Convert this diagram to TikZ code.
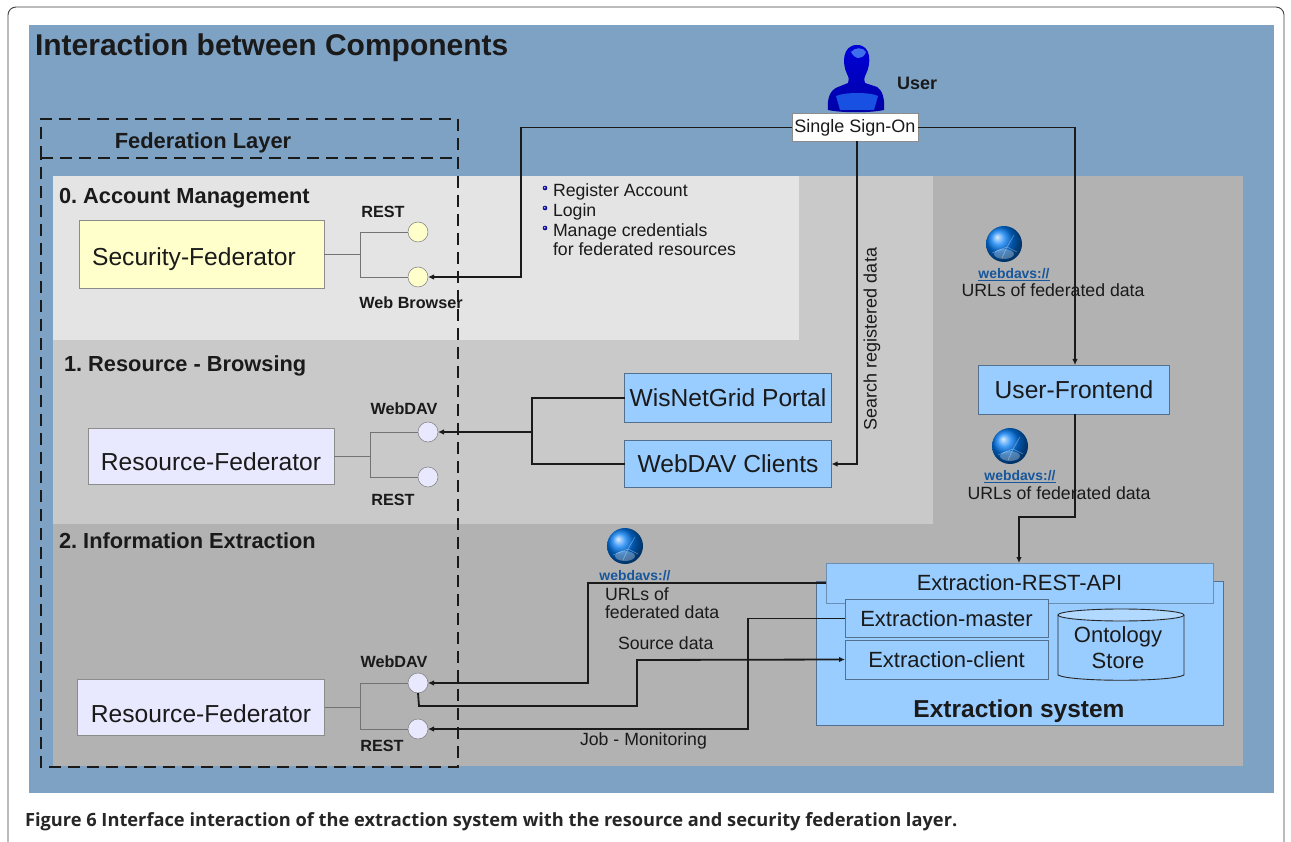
\documentclass[tikz,border=0pt]{standalone}
\usepackage{fontspec}
\setmainfont{Liberation Sans}
\newfontfamily\capfont{Open Sans}
\usetikzlibrary{arrows.meta,shapes.geometric}
\frenchspacing
\newcommand{\fz}[1]{\fontsize{#1}{#1}\selectfont}
\newcommand{\lowr}[2]{\raisebox{-#1pt}[0pt][0pt]{#2}}
\definecolor{bgblue}{HTML}{7EA2C4}
\definecolor{sysblue}{HTML}{99CCFF}
\definecolor{lav}{HTML}{E8E8FF}
\definecolor{pale}{HTML}{FFFFCC}
\definecolor{linkblue}{HTML}{17569B}
\definecolor{ink}{HTML}{1A1A1A}
\tikzset{
 x=1pt,y=-1pt,
 every node/.style={inner sep=0pt,outer sep=0pt,text=ink},
 conn/.style={draw=ink,line width=1.8pt},
 arr/.style={conn,-{Latex[length=6pt,width=5.5pt]}},
 lolli/.style={draw=black!55,line width=0.9pt},
 dashbox/.style={draw=ink,line width=1.1pt,dash pattern=on 12pt off 7pt},
 feder/.style={draw=black!45,line width=0.5pt,fill=#1,align=center},
 sock/.style={circle,draw=black!50,line width=0.5pt,fill=#1,minimum size=20pt},
 sysbox/.style={draw=black!45!sysblue,line width=0.8pt,fill=sysblue,align=center},
 head/.style={font=\bfseries\fz{21.8}},
 ifl/.style={font=\bfseries\fz{16.2}},
 lab/.style={font=\fz{17.7}},
 boxt/.style={font=\fz{24.6}},
 subt/.style={font=\fz{22}},
 web/.style={font=\bfseries\fz{13.9},text=linkblue,inner sep=0pt},
}
\newcommand{\globe}[3]{%
 \shade[ball color=blue!50!cyan!95!black] (#1,#2) circle[radius=18pt];
 \draw[white,opacity=.4,line width=.5pt] (#1-12,#2+9) -- (#1+3,#2+3) -- (#1+13,#2+8) (#1+3,#2+3) -- (#1-2,#2+14) (#1+3,#2+3) -- (#1+10,#2-9);
 \fill[white,opacity=.3] (#1,#2+10) ellipse[x radius=10pt,y radius=5pt];
 \node[web] (#3) at (#1+10,#2+31) {\underline{webdavs://}};}
\newcommand{\bul}[1]{\shade[ball color=blue!80!black] (545,#1) circle[radius=2.3pt];}
\begin{document}
\begin{tikzpicture}
\useasboundingbox (0,0) rectangle (1291,842);
\fill[white] (0,0) rectangle (1291,842);
\draw[black!75,line width=0.9pt,rounded corners=8pt] (8,7) rectangle (1284,860);
\fill[bgblue] (29,25) rectangle (1274,793);
\fill[black!30] (53,176) rectangle (1243,766);
\fill[black!21] (53,340) rectangle (933,524);
\fill[black!21] (799,176) rectangle (933,340);
\fill[black!10.5] (53,176) rectangle (799,340);
\node[anchor=base west,font=\bfseries\fz{30}] (title) at (35,56) {Interaction between Components};
\draw[dashbox] (41,158) -- (41,119) -- (458,119) -- (458,767) -- (41,767) -- cycle;
\draw[dashbox] (41,158) -- (458,158);
\node[anchor=base,font=\bfseries\fz{21.9}] (fedlayer) at (203,149) {Federation Layer};
\node[anchor=base west,head] (t0) at (59,204) {0. Account Management};
\node[anchor=base west,head] (t1) at (64,372) {1. Resource - Browsing};
\node[anchor=base west,head] (t2) at (59,548) {2. Information Extraction};
% user
\shade[top color=blue!85!black,bottom color=blue!65!black]
 (828,110) .. controls (827,98) and (830,90) .. (838,87) -- (848,83) .. controls (849,79) and (849,78) .. (847,74)
 .. controls (842,64) and (842,45) .. (857,45) .. controls (872,45) and (871,64) .. (866,74)
 .. controls (864,78) and (864,79) .. (865,83) -- (877,87) .. controls (882,90) and (885,98) .. (884,110)
 .. controls (870,113) and (842,113) .. (828,110) -- cycle;
\fill[blue!60!cyan!85!white,opacity=.65] (836,96) .. controls (845,92) and (870,92) .. (878,96) -- (874,110) -- (840,110) -- cycle;
\fill[blue!45!cyan!60!white,opacity=.6] (851,52) .. controls (855,47) and (863,47) .. (866,52) .. controls (863,60) and (855,60) .. (851,52) -- cycle;
\node[anchor=base west,font=\bfseries\fz{18}] (usr) at (897,90) {User};
\node[draw=black!45,line width=0.6pt,fill=white,minimum width=126pt,minimum height=28pt,font=\fz{18}] (sso) at (855,127.5) {Single Sign-On};
% bullets
\bul{188}\bul{208}\bul{228}
\node[anchor=base west,lab] (b1) at (553,197) {Register Account};
\node[anchor=base west,lab] (b2) at (553,217) {Login};
\node[anchor=base west,lab] (b3) at (553,237) {Manage credentials};
\node[anchor=base west,lab] (b4) at (553,256) {for federated resources};
\node[rotate=90,font=\fz{18}] (srch) at (872,339) {Search registered data};
% globes
\globe{1004}{244}{w1}
\node[anchor=base,lab] (u1) at (1053,297) {URLs of federated data};
\globe{1010}{446}{w2}
\node[anchor=base,lab] (u2) at (1059,499) {URLs of federated data};
\globe{625}{546}{w3}
\node[anchor=base west,lab] (u3a) at (605,600) {URLs of};
\node[anchor=base west,lab] (u3b) at (605,618) {federated data};
\node[anchor=base west,lab] (srcd) at (618,649) {Source data};
\node[anchor=base west,lab] (jobm) at (580,745) {Job - Monitoring};
% federators
\node[feder=pale,minimum width=245pt,minimum height=68pt,boxt] (sec) at (201.5,254) {\hspace*{-15pt}\lowr{12}{Security-Federator}};
\node[feder=lav,minimum width=246pt,minimum height=56pt,boxt] (res1) at (211,456) {\lowr{14.5}{Resource-Federator}};
\node[feder=lav,minimum width=247pt,minimum height=56pt,boxt] (res2) at (201,707) {\lowr{15}{Resource-Federator}};
% sockets
\node[sock=pale] (s1) at (418,232) {};
\node[sock=pale] (s2) at (418,277) {};
\node[sock=lav] (s3) at (428,432) {};
\node[sock=lav] (s4) at (428,477) {};
\node[sock=lav] (s5) at (418,683) {};
\node[sock=lav] (s6) at (418,729) {};
\node[ifl] (l1) at (383,212) {REST};
\node[ifl] (l2) at (411,303) {Web Browser};
\node[ifl] (l3) at (404,409) {WebDAV};
\node[ifl] (l4) at (393,500) {REST};
\node[ifl] (l5) at (394,662) {WebDAV};
\node[ifl] (l6) at (382,746) {REST};
\draw[lolli] (sec.east) -- (360,254) (360,232) -- (s1.west) (360,277) -- (s2.west) (360,232) -- (360,277);
\draw[lolli] (res1.east) -- (370,456) (370,432) -- (s3.west) (370,477) -- (s4.west) (370,432) -- (370,477);
\draw[lolli] (res2.east) -- (360,707) (360,683) -- (s5.west) (360,729) -- (s6.west) (360,683) -- (360,729);
% boxes
\node[sysbox,minimum width=191pt,minimum height=49pt,boxt] (uf) at (1074,389.5) {User-Frontend};
\node[sysbox,minimum width=207pt,minimum height=49pt,boxt] (portal) at (728,398) {WisNetGrid Portal};
\node[sysbox,minimum width=207pt,minimum height=47pt,boxt] (clients) at (728,464) {WebDAV Clients};
\node[sysbox,minimum width=407pt,minimum height=144pt] (sys) at (1019.5,653) {};
\node[anchor=base,font=\bfseries\fz{24.5}] (syst) at (1019,717) {Extraction system};
\node[draw=black!30!sysblue,line width=0.5pt,fill=sysblue,minimum width=387pt,minimum height=40pt,subt] (api) at (1019.5,583) {Extraction-REST-API};
\node[sysbox,minimum width=203pt,minimum height=38pt,subt] (master) at (946.5,618.5) {Extraction-master};
\node[sysbox,minimum width=203pt,minimum height=39pt,subt] (client) at (946.5,659.5) {Extraction-client};
\draw[black!85,line width=0.9pt,fill=sysblue] (1058,615) -- (1058,675) .. controls (1070,682) and (1172,682) .. (1184,675) -- (1184,615);
\draw[black!85,line width=0.9pt,fill=sysblue!75!white] (1121,615) ellipse[x radius=63pt,y radius=6pt];
\node[align=center,font=\fz{22}] (onto) at (1118,648) {Ontology\\[4pt]Store};
% connectors
\draw[arr] (sso.west) -- (521,127.5) -- (521,277) -- (s2.east);
\draw[arr] (sso.east) -- (1075,127.5) -- (uf.north -| 1075,0);
\draw[arr] (sso.south -| 857,0) -- (857,464) -- (clients.east);
\draw[conn] (portal.west) -- (532,398) -- (532,464) -- (clients.west);
\draw[arr] (532,432) -- (s3.east);
\draw[arr] (uf.south -| 1075,0) -- (1075,517) -- (1019,517) -- (api.north -| 1019,0);
\draw[arr] (api.west |- 0,583) -- (588,583) -- (588,683) -- (s5.east);
\draw[arr] (master.west) -- (748,618.5) -- (748,729) -- (s6.east);
\draw[arr] (s5.south) -- (419,706) -- (637,706) -- (637,660) -- (client.west);
% caption
\node[anchor=base west,font=\capfont\bfseries\fz{18.25},text=black!85] (cap) at (25,826) {Figure 6 Interface interaction of the extraction system with the resource and security federation layer.};
\end{tikzpicture}
\end{document}
